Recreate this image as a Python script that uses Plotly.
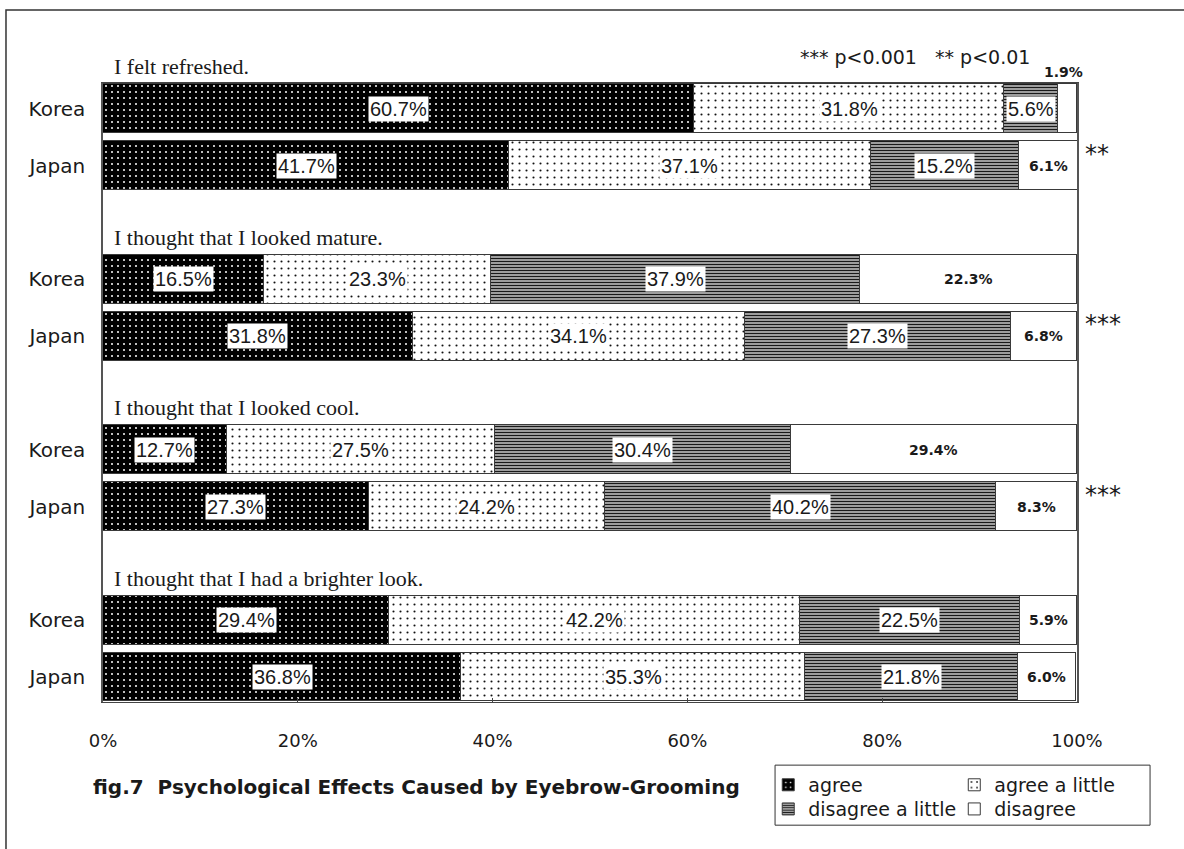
import plotly.graph_objects as go

# Survey items and the two countries compared for each
items = [
    "I felt refreshed.",
    "I thought that I looked mature.",
    "I thought that I looked cool.",
    "I thought that I had a brighter look.",
]
countries = ["Korea", "Japan"]
responses = ["agree", "agree a little", "disagree a little", "disagree"]

# Percentages per response; order: item1 Korea, item1 Japan, item2 Korea, ...
agree = [60.7, 41.7, 16.5, 31.8, 12.7, 27.3, 29.4, 36.8]
agree_little = [31.8, 37.1, 23.3, 34.1, 27.5, 24.2, 42.2, 35.3]
disagree_little = [5.6, 15.2, 37.9, 27.3, 30.4, 40.2, 22.5, 21.8]
disagree = [1.9, 6.1, 22.3, 6.8, 29.4, 8.3, 5.9, 6.0]

# Significance mark for each item (Korea vs Japan)
significance = ["**", "***", "***", ""]
sig_note = "*** p<0.001   ** p<0.01"

x_ticks = [0, 20, 40, 60, 80, 100]
x_tick_text = ["0%", "20%", "40%", "60%", "80%", "100%"]

title_text = "fig.7  Psychological Effects Caused by Eyebrow-Grooming"

# Each item uses three rows: its heading, then Korea, then Japan
rows = []
row_labels = []
for i in range(len(items)):
    for j, c in enumerate(countries):
        rows.append(3 * i + 1 + j)
        row_labels.append(c)

series = [agree, agree_little, disagree_little, disagree]
patterns = [
    dict(shape=".", fgcolor="white", bgcolor="black", size=6, solidity=0.09, fillmode="replace"),
    dict(shape=".", fgcolor="#111", bgcolor="white", size=7, solidity=0.07, fillmode="replace"),
    dict(shape="-", fgcolor="#1a1a1a", bgcolor="white", size=3, solidity=0.62, fillmode="replace"),
    dict(shape="", fgcolor="black", bgcolor="white"),
]
legend_ids = ["legend", "legend2", "legend3", "legend4"]

GOTHIC = "DejaVu Sans"
NARROW = "Liberation Sans"

fig = go.Figure()
for name, vals, pat, lg in zip(responses, series, patterns, legend_ids):
    fig.add_trace(go.Bar(
        x=vals, y=rows, orientation="h", name=name, width=0.86,
        marker=dict(color="white", pattern=pat, line=dict(color="#3a3a3a", width=1)),
        legend=lg, hoverinfo="skip",
    ))

annotations = []
# Value labels centred on each segment
for k, y in enumerate(rows):
    left = 0.0
    for s, vals in enumerate(series):
        v = vals[k]
        mid = left + v / 2
        left += v
        label = f"{v:.1f}%"
        if s < 3:
            annotations.append(dict(
                x=mid, y=y, xref="x", yref="y", text=label, showarrow=False,
                font=dict(family=NARROW, size=20, color="#1a1a1a"),
                bgcolor="white", borderpad=1,
            ))
        elif v < 3:
            # too thin a segment: label sits above the bar
            annotations.append(dict(
                x=mid, y=y, xref="x", yref="y", text=f"<b>{label}</b>", showarrow=False,
                yshift=37, xshift=-4,
                font=dict(family=GOTHIC, size=14, color="#1a1a1a"),
            ))
        else:
            annotations.append(dict(
                x=mid, y=y, xref="x", yref="y", text=f"<b>{label}</b>", showarrow=False,
                font=dict(family=GOTHIC, size=14, color="#1a1a1a"),
            ))

# Item headings above each pair of bars, plus significance marks
for i, item in enumerate(items):
    annotations.append(dict(
        x=0.9, y=3 * i + 1, xref="x", yref="y", text=item, showarrow=False,
        xanchor="left", yanchor="middle", yshift=42,
        font=dict(family="Liberation Serif", size=22, color="#1a1a1a"),
    ))
    if significance[i]:
        annotations.append(dict(
            x=100, y=3 * i + 2, xref="x", yref="y", text=significance[i], showarrow=False,
            xanchor="left", yanchor="middle", xshift=6, yshift=12,
            font=dict(family=GOTHIC, size=24, color="#1a1a1a"),
        ))

annotations.append(dict(
    x=0.7136, y=1.042, xref="paper", yref="paper", text=sig_note, showarrow=False,
    xanchor="left", yanchor="middle",
    font=dict(family=GOTHIC, size=19, color="#1a1a1a"),
))
annotations.append(dict(
    x=-0.0123, y=-0.137, xref="paper", yref="paper", text=f"<b>{title_text}</b>",
    showarrow=False, xanchor="left", yanchor="middle",
    font=dict(family=GOTHIC, size=20, color="#1a1a1a"),
))

# Legend: one entry per box, laid out two by two inside a framed area
legend_pos = [(0.683, -0.134), (0.874, -0.134), (0.683, -0.173), (0.874, -0.173)]
legend_layouts = {}
for lg, (lx, ly) in zip(legend_ids, legend_pos):
    legend_layouts[lg] = dict(
        x=lx, y=ly, xanchor="left", yanchor="middle", orientation="h",
        bgcolor="rgba(0,0,0,0)", borderwidth=0, tracegroupgap=0,
        font=dict(family=GOTHIC, size=19, color="#1a1a1a"),
    )

shapes = [
    # legend frame
    dict(type="rect", xref="paper", yref="paper", x0=0.690, x1=1.075, y0=-0.199, y1=-0.102,
         line=dict(color="#333", width=1)),
    # outer frame of the figure
    dict(type="rect", xref="paper", yref="paper", x0=-0.0996, x1=1.3, y0=-0.5, y1=1.118,
         line=dict(color="#333", width=1.5)),
]

fig.update_layout(
    width=1184, height=849,
    margin=dict(l=103, r=107, t=83, b=147),
    paper_bgcolor="white", plot_bgcolor="white",
    barmode="stack", bargap=0,
    showlegend=True,
    annotations=annotations,
    shapes=shapes,
    **legend_layouts,
)
fig.update_xaxes(
    range=[0, 100], tickvals=x_ticks, ticktext=x_tick_text,
    showgrid=False, zeroline=False, showline=True, linecolor="#444", linewidth=1,
    mirror=True, ticks="inside", ticklen=4, tickcolor="#444",
    ticklabelstandoff=22,
    tickfont=dict(family=GOTHIC, size=18, color="#1a1a1a"),
)
fig.update_yaxes(
    range=[11.44, 0.544], tickvals=rows, ticktext=row_labels,
    showgrid=False, zeroline=False, showline=True, linecolor="#555", linewidth=1.5,
    mirror=True, ticks="", ticklabelstandoff=12,
    tickfont=dict(family=GOTHIC, size=20, color="#1a1a1a"),
)

fig.write_html("out.html")
